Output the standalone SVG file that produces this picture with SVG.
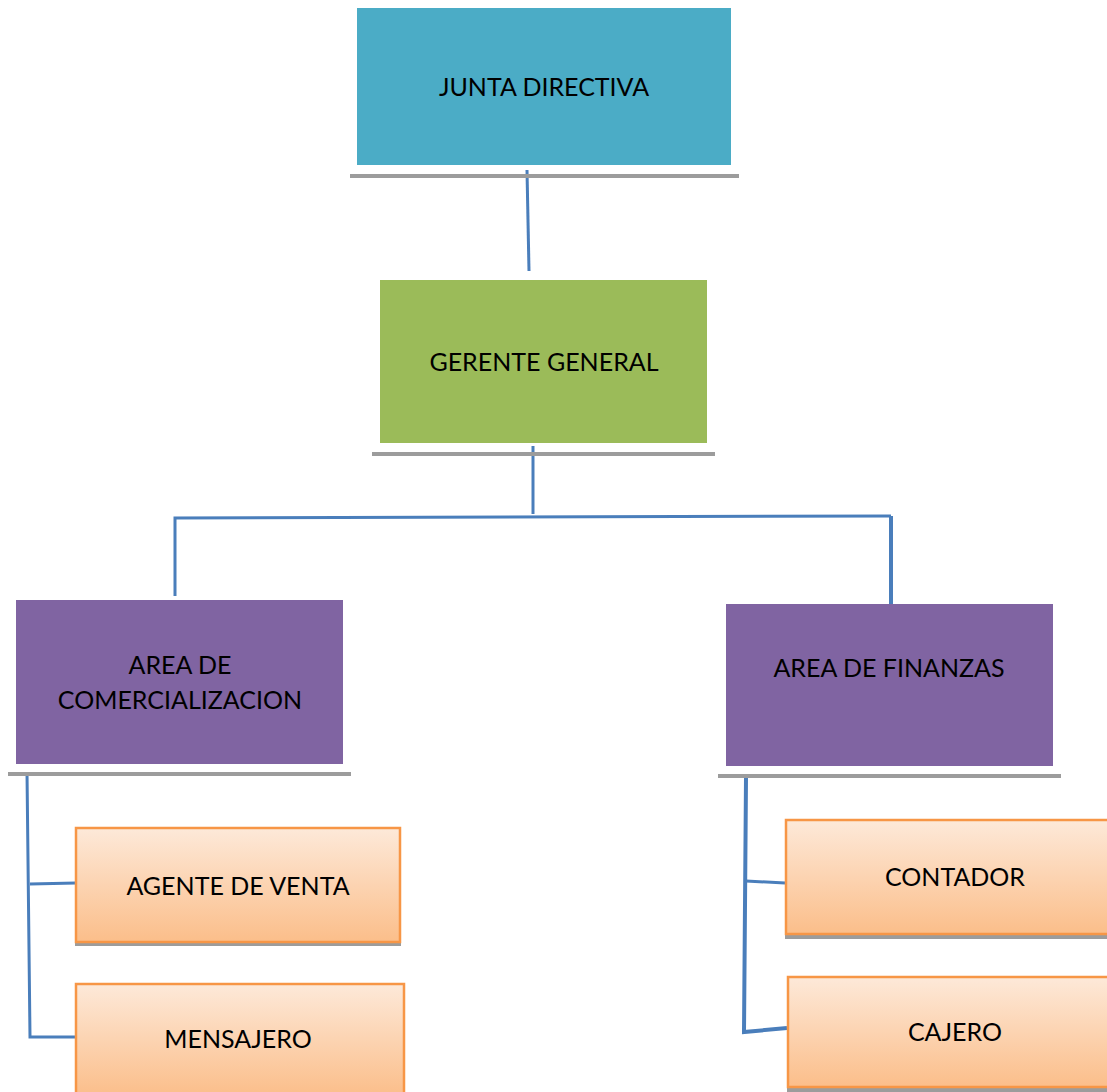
<svg xmlns="http://www.w3.org/2000/svg" width="1107" height="1092" viewBox="0 0 1107 1092">
<style>
  .lbl { font-family: Lato, "Liberation Sans", sans-serif; font-size: 25px; fill: #000; text-anchor: middle; }
  .bar { fill: #9c9c9c; }
  .conn { stroke: #4a7ebb; stroke-width: 3; fill: none; }
  .orange { fill: url(#og); stroke: #F79646; stroke-width: 2.5; }
</style>
<defs>
  <linearGradient id="og" x1="0" y1="0" x2="0" y2="1">
    <stop offset="0" stop-color="#FDE9D9"/>
    <stop offset="1" stop-color="#FBBE8A"/>
  </linearGradient>
</defs>
<rect width="1107" height="1092" fill="#fff"/>
<g id="connectors">
  <path class="conn" d="M527 170 L529 271"/>
  <path class="conn" d="M533 446 L533 514"/>
  <path class="conn" d="M175 596 L175 518 L891 516"/>
  <path class="conn" style="stroke-width:4" d="M891 516 L891 604"/>
  <path class="conn" d="M27 772 L30 1037 L78 1037"/>
  <path class="conn" d="M30 884 L76 883"/>
  <path class="conn" style="stroke-width:4" d="M746 778 L744 1032 L787 1028"/>
  <path class="conn" d="M746 881 L785 883"/>
</g>
<g id="junta">
  <rect x="357" y="8" width="374" height="157" fill="#4BACC6"/>
  <rect class="bar" x="350" y="174" width="389" height="4"/>
  <text class="lbl" x="544" y="96">JUNTA DIRECTIVA</text>
</g>
<g id="gerente">
  <rect x="380" y="280" width="327" height="163" fill="#9BBB59"/>
  <rect class="bar" x="372" y="452" width="343" height="4"/>
  <text class="lbl" x="544" y="371">GERENTE GENERAL</text>
</g>
<g id="comercializacion">
  <rect x="16" y="600" width="327" height="164" fill="#8064A2"/>
  <rect class="bar" x="8" y="772" width="343" height="4"/>
  <text class="lbl" x="180" y="674">AREA DE</text>
  <text class="lbl" x="180" y="709">COMERCIALIZACION</text>
</g>
<g id="finanzas">
  <rect x="726" y="604" width="327" height="162" fill="#8064A2"/>
  <rect class="bar" x="718" y="774" width="343" height="4"/>
  <text class="lbl" x="889" y="677">AREA DE FINANZAS</text>
</g>
<g id="agente">
  <rect class="bar" x="75" y="942" width="326" height="4"/>
  <rect class="orange" x="76" y="828" width="324" height="114"/>
  <text class="lbl" x="238" y="895">AGENTE DE VENTA</text>
</g>
<g id="mensajero">
  <rect class="orange" x="76" y="984" width="328" height="112"/>
  <text class="lbl" x="238" y="1048">MENSAJERO</text>
</g>
<g id="contador">
  <rect class="bar" x="785" y="935" width="330" height="4"/>
  <rect class="orange" x="786" y="820" width="330" height="114"/>
  <text class="lbl" x="955" y="886">CONTADOR</text>
</g>
<g id="cajero">
  <rect class="bar" x="787" y="1088" width="330" height="4"/>
  <rect class="orange" x="788" y="977" width="330" height="110"/>
  <text class="lbl" x="955" y="1041">CAJERO</text>
</g>
</svg>
